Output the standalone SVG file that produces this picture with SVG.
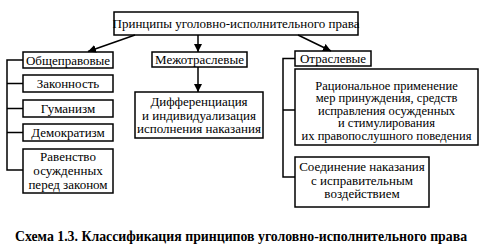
<svg xmlns="http://www.w3.org/2000/svg" width="482" height="252" viewBox="0 0 482 252">
<defs>
<marker id="ah" viewBox="0 0 10 10" refX="10" refY="5" markerWidth="8" markerHeight="8" markerUnits="userSpaceOnUse" orient="auto">
<path d="M0,0 L10,5 L0,10 z" fill="#000"/>
</marker>
</defs>
<style>
rect{fill:#fff;stroke:#000;stroke-width:1.5}
text{font-family:"Liberation Serif","Tinos","DejaVu Serif",serif;font-size:13px;fill:#000;text-anchor:middle}
.s{font-size:12.5px}
.c line,.c path{stroke:#000;stroke-width:1.5;fill:none}
.cap{font-weight:bold;font-size:13.8px}
</style>
<g id="root"><rect x="114" y="12" width="244" height="23"/><text x="236" y="28">Принципы уголовно-исполнительного права</text></g>
<g id="obshch"><rect x="23" y="52" width="90" height="16"/><text x="68" y="64.5">Общеправовые</text></g>
<g id="zakon"><rect x="23" y="75" width="90" height="17"/><text x="68" y="88">Законность</text></g>
<g id="guman"><rect x="23" y="100" width="90" height="17"/><text x="68" y="113">Гуманизм</text></g>
<g id="demokr"><rect x="23" y="124" width="90" height="17"/><text x="68" y="137">Демократизм</text></g>
<g id="ravenstvo"><rect x="23" y="149" width="90" height="44"/><text x="68" y="161">Равенство</text><text x="68" y="175">осужденных</text><text x="68" y="189">перед законом</text></g>
<g id="mezh"><rect x="152" y="52" width="95" height="15"/><text x="199.5" y="64">Межотраслевые</text></g>
<g id="diff"><rect x="135" y="92" width="128" height="46"/><text x="199" y="106">Дифференциация</text><text x="199" y="119.5">и индивидуализация</text><text x="199" y="133">исполнения наказания</text></g>
<g id="otrasl"><rect x="295" y="51" width="76" height="15"/><text x="333" y="63">Отраслевые</text></g>
<g id="ratsion"><rect x="295" y="69" width="183" height="76"/><text class="s" x="386.5" y="89.5">Рациональное применение</text><text class="s" x="386.5" y="102">мер принуждения, средств</text><text class="s" x="386.5" y="114.5">исправления осужденных</text><text class="s" x="386.5" y="127">и стимулирования</text><text class="s" x="386.5" y="139.5">их правопослушного поведения</text></g>
<g id="soedin"><rect x="295" y="157" width="134" height="50"/><text x="362" y="171">Соединение наказания</text><text x="362" y="184.5">с исправительным</text><text x="362" y="198">воздействием</text></g>
<g class="c" id="connectors">
<line x1="135" y1="35" x2="88" y2="51.5" marker-end="url(#ah)"/>
<line x1="198" y1="35" x2="198" y2="52" marker-end="url(#ah)"/>
<line x1="198" y1="67" x2="198" y2="92" marker-end="url(#ah)"/>
<line x1="298" y1="35" x2="331" y2="51" marker-end="url(#ah)"/>
<path d="M23,60 H7 V170 H23 M7,83.5 H23 M7,108.5 H23 M7,132.5 H23"/>
<path d="M295,58.5 H283 V177 H295 M283,110 H295"/>
</g>
<text class="cap" x="241" y="241">Схема 1.3. Классификация принципов уголовно-исполнительного права</text>
</svg>
